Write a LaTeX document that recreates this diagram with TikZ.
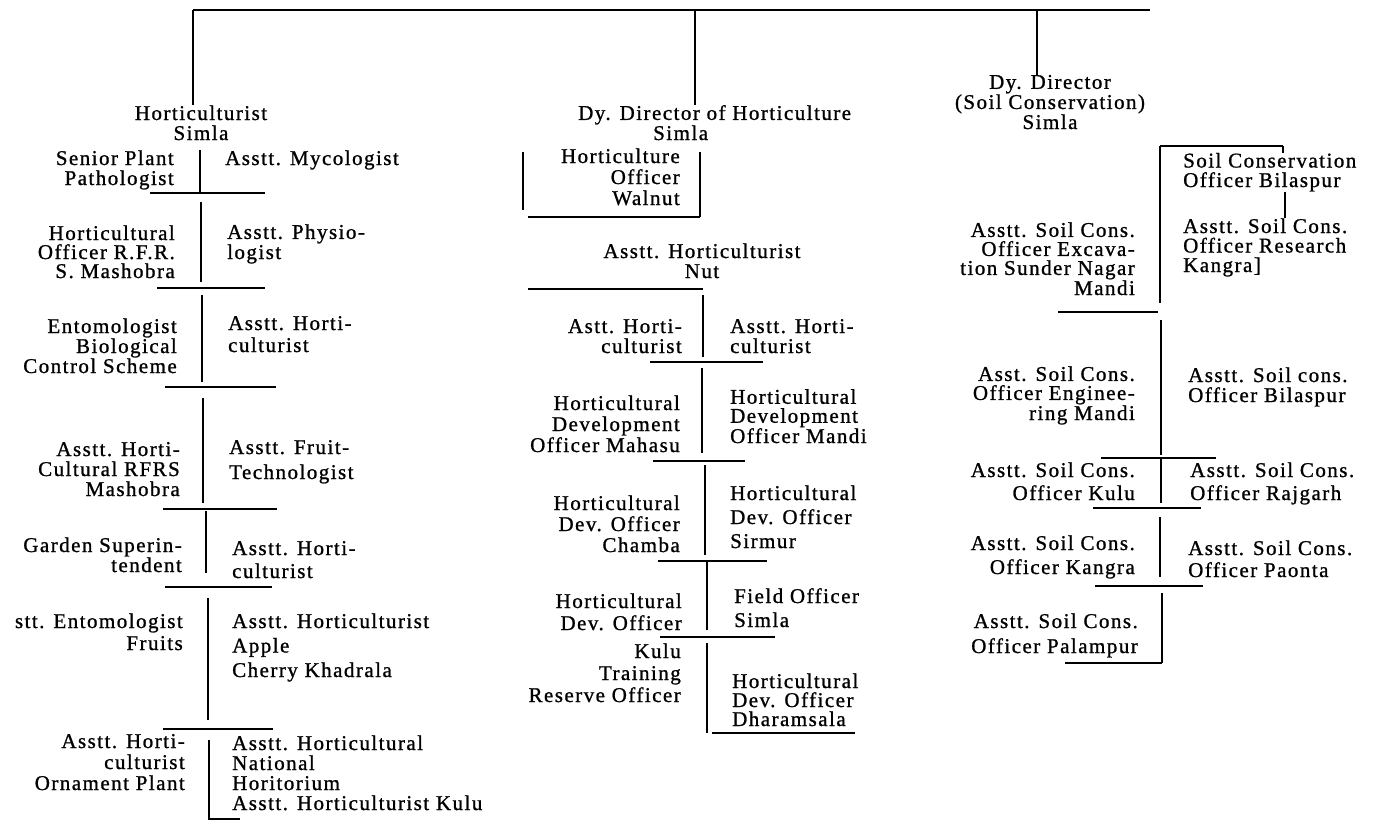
\documentclass[tikz,border=0pt]{standalone}
\usepackage{fontspec}
\setmainfont{Liberation Serif}[LetterSpace=7,FakeBold=1]
\newcommand{\chfont}[1]{\fontsize{21}{#1}\selectfont}
\tikzset{
  txt/.style={inner sep=0pt, font=\chfont{20}},
  lb/.style={txt, align=right, anchor=base east},
  rb/.style={txt, align=left, anchor=base west},
  cb/.style={txt, align=center, anchor=base},
  sk/.style={font=\chfont{#1}},
  rule/.style={line width=1.5pt, line cap=butt},
}
\begin{document}
\begin{tikzpicture}[x=1pt,y=-1pt]
\useasboundingbox[fill=white] (0,0) rectangle (1373,822);
% ---------------- top line ----------------
\coordinate (topL) at (193,10);
\coordinate (topM) at (695,10);
\coordinate (topD) at (1037,10);
\coordinate (topR) at (1150,10);
\draw[rule] (topL) -- (topR);

% ---------------- left column ----------------
\node[cb] (h1) at (201,140) {Horticulturist\\Simla};
\draw[rule] (topL) -- (topL |- h1.north);

\node[lb] (l1) at (174,185) {Senior Plant\\Pathologist};
\node[rb] (r1) at (225,165) {Asstt. Mycologist};
\draw[rule] (200,150) -- (200,192);
\draw[rule] (150,193) -- (265,193);

\node[lb,sk=19] (l2) at (175,278) {Horticultural\\Officer R.F.R.\\S. Mashobra};
\node[rb,sk=19] (r2) at (227,259) {Asstt. Physio-\\logist};
\draw[rule] (201,202) -- (201,282);
\draw[rule] (157,288) -- (265,288);

\node[lb] (l3) at (177,373) {Entomologist\\Biological\\Control Scheme};
\node[rb,sk=22] (r3) at (228,352) {Asstt. Horti-\\culturist};
\draw[rule] (202,295) -- (202,382);
\draw[rule] (165,387) -- (276,387);

\node[lb] (l4) at (180,496) {Asstt. Horti-\\Cultural RFRS\\Mashobra};
\node[rb,sk=25] (r4) at (229,479) {Asstt. Fruit-\\Technologist};
\draw[rule] (203,398) -- (203,503);
\draw[rule] (163,509) -- (277,509);

\node[lb] (l5) at (182,572) {Garden Superin-\\tendent};
\node[rb,sk=23] (r5) at (232,578) {Asstt. Horti-\\culturist};
\draw[rule] (206,511) -- (206,573);
\draw[rule] (165,587) -- (272,587);

\node[lb,sk=22] (l6) at (183,650) {stt. Entomologist\\Fruits};
\node[rb,sk=24.5] (r6) at (232,677) {Asstt. Horticulturist\\Apple\\Cherry Khadrala};
\draw[rule] (208,598) -- (208,720);
\draw[rule] (163,729) -- (273,729);

\node[lb,sk=21] (l7) at (185,790) {Asstt. Horti-\\culturist\\Ornament Plant};
\node[rb,sk=20] (r7) at (232,810) {Asstt. Horticultural\\National\\Horitorium\\Asstt. Horticulturist Kulu};
\draw[rule] (209,740) -- (209,820);
\draw[rule] (209,819) -- (240,819);

% ---------------- middle column ----------------
\node[rb,sk=18] (md) at (578,140) {Dy. Director of Horticulture\\\hspace*{75pt}Simla};
\draw[rule] (topM) -- (topM |- md.north);

\node[lb,sk=21] (mw) at (680,205) {Horticulture\\Officer\\Walnut};
\draw[rule] (523,152) -- (523,210);
\draw[rule] (700,152) -- (700,217);
\draw[rule] (528,217) -- (700,217);

\node[cb] (mn) at (702,278) {Asstt. Horticulturist\\Nut};
\draw[rule] (528,289) -- (703,289);

\node[lb] (m4l) at (682,353) {Astt. Horti-\\culturist};
\node[rb] (m4r) at (730,353) {Asstt. Horti-\\culturist};
\draw[rule] (703,295) -- (703,357);
\draw[rule] (650,362) -- (763,362);

\node[lb,sk=21] (m5l) at (680,452) {Horticultural\\Development\\Officer Mahasu};
\node[rb,sk=19] (m5r) at (730,443) {Horticultural\\Development\\Officer Mandi};
\draw[rule] (702,368) -- (702,453);
\draw[rule] (653,461) -- (745,461);

\node[lb,sk=21] (m6l) at (680,552) {Horticultural\\Dev. Officer\\Chamba};
\node[rb,sk=24] (m6r) at (730,548) {Horticultural\\Dev. Officer\\Sirmur};
\draw[rule] (705,465) -- (705,555);
\draw[rule] (658,561) -- (767,561);

\node[lb,sk=22] (m7l) at (682,630) {Horticultural\\Dev. Officer};
\node[rb,sk=24] (m7r) at (734,627) {Field Officer\\Simla};
\draw[rule] (707,562) -- (707,630);
\draw[rule] (660,637) -- (775,637);

\node[lb,sk=22] (m8l) at (681,702) {Kulu\\Training\\Reserve Officer};
\node[rb,sk=19] (m8r) at (732,726) {Horticultural\\Dev. Officer\\Dharamsala};
\draw[rule] (707,643) -- (707,733);
\draw[rule] (712,733) -- (855,733);

% ---------------- right column ----------------
\node[cb,sk=18.5] (dd) at (1050,129) {Dy. Director\\(Soil Conservation)\\Simla};
\draw[rule] (topD) -- (topD |- dd.north);

\coordinate (rv) at (1160,146);
\coordinate (rt) at (1283,146);
\draw[rule] (rv) -- (1160,303);
\draw[rule] (rv) -- (rt);

\node[rb,sk=19.5] (rc1) at (1183,187) {Soil Conservation\\Officer Bilaspur};
\draw[rule] (rt) -- (rt |- rc1.north);
\node[rb,sk=19.5] (rc2) at (1183,272) {Asstt. Soil Cons.\\Officer Research\\Kangra]};
\draw[rule] (rc1.south -| 1285,0) -- (rc2.north -| 1285,0);

\node[lb,sk=19] (rl1) at (1135,295) {Asstt. Soil Cons.\\Officer Excava-\\tion Sunder Nagar\\Mandi};
\draw[rule] (1058,312) -- (1158,312);

\node[lb,sk=19] (rl2) at (1135,420) {Asst. Soil Cons.\\Officer Enginee-\\ring Mandi};
\node[rb,sk=20] (rr2) at (1188,402) {Asstt. Soil cons.\\Officer Bilaspur};
\draw[rule] (1161,320) -- (1161,455);
\draw[rule] (1101,458) -- (1216,458);

\node[lb,sk=23] (rl3) at (1135,500) {Asstt. Soil Cons.\\Officer Kulu};
\node[rb,sk=23] (rr3) at (1190,500) {Asstt. Soil Cons.\\Officer Rajgarh};
\draw[rule] (1161,458) -- (1161,503);
\draw[rule] (1093,508) -- (1201,508);

\node[lb,sk=24] (rl4) at (1135,574) {Asstt. Soil Cons.\\Officer Kangra};
\node[rb,sk=22] (rr4) at (1188,577) {Asstt. Soil Cons.\\Officer Paonta};
\draw[rule] (1160,517) -- (1160,577);
\draw[rule] (1095,586) -- (1203,586);

\node[lb,sk=25] (rl5) at (1138,653) {Asstt. Soil Cons.\\Officer Palampur};
\draw[rule] (1162,593) -- (1162,663);
\draw[rule] (1065,663) -- (1162,663);
\end{tikzpicture}
\end{document}
